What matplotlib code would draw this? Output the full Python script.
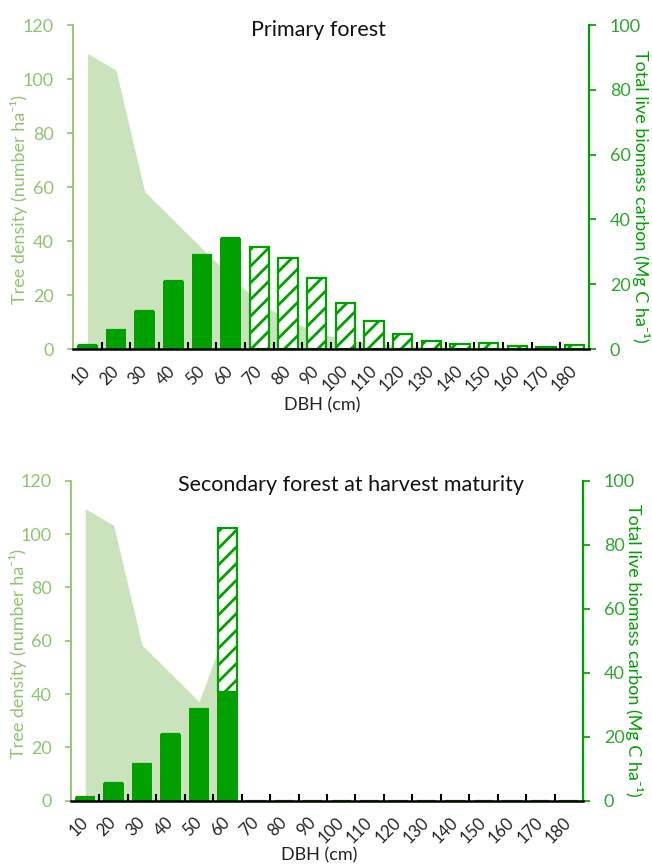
import matplotlib
matplotlib.use("Agg")
import matplotlib.pyplot as plt
import numpy as np

plt.rcParams['font.family'] = ['Lato', 'DejaVu Sans']
plt.rcParams['hatch.linewidth'] = 2.0
plt.rcParams['hatch.color'] = '#00A000'

# DBH classes (cm)
dbh = ['10', '20', '30', '40', '50', '60', '70', '80', '90', '100',
       '110', '120', '130', '140', '150', '160', '170', '180']

# Tree density (number per ha)
density_primary = [109.5, 103.3, 58.3, 47.8, 37.3, 27.0, 17.0, 11.0, 6.0, 3.5,
                   2.0, 1.2, 0.8, 0.5, 0.4, 0.3, 0.2, 0.2]
density_secondary = [109.5, 103.3, 58.3, 47.8, 37.1, 66.0]

# Total live biomass carbon (Mg C per ha), trees up to 60 cm
carbon_small_primary = [1.2, 5.9, 11.7, 21.0, 29.0, 34.3, 0, 0, 0, 0,
                        0, 0, 0, 0, 0, 0, 0, 0]
# carbon in the larger classes
carbon_large_primary = [0, 0, 0, 0, 0, 0, 31.6, 28.2, 21.8, 14.3,
                        8.6, 4.7, 2.5, 1.4, 1.7, 1.0, 0.7, 1.2]

carbon_small_secondary = [1.2, 5.6, 11.5, 20.7, 28.8, 34.0, 0, 0, 0, 0,
                          0, 0, 0, 0, 0, 0, 0, 0]
carbon_large_secondary = [0, 0, 0, 0, 0, 51.1, 0, 0, 0, 0,
                          0, 0, 0, 0, 0, 0, 0, 0]

GREEN = '#00A000'
AREA = '#CAE3BD'
LEFTC = '#8FC46F'
RIGHTC = '#2BA82B'

fig = plt.figure(figsize=(6.52, 8.64), dpi=100)


def panel(rect, density, small, large, title, title_xy, xlab_xy):
    ax = fig.add_axes(rect)
    x = np.arange(len(dbh))
    xd = np.arange(len(density))
    ax.fill_between(xd, density, 0, color=AREA, linewidth=0)
    ax.set_xlim(-0.5, len(dbh) - 0.5)
    ax.set_ylim(0, 120)
    ax.set_yticks(range(0, 121, 20))
    ax.tick_params(axis='y', colors=LEFTC, labelsize=13, length=4, width=1.2, pad=10)
    ax.set_ylabel('Tree density (number ha⁻¹)', color=LEFTC, fontsize=13,
                  ha='center', va='center')
    ax.yaxis.set_label_coords(-0.104, 0.46)
    ax.spines['left'].set_color(LEFTC)
    ax.spines['left'].set_linewidth(1.3)
    ax.spines['top'].set_visible(False)
    ax.spines['right'].set_visible(False)
    ax.spines['bottom'].set_visible(False)

    # category labels in the middle, tick marks on the boundaries
    ax.set_xticks(x)
    ax.set_xticklabels(dbh, rotation=45, ha='right', va='center', fontsize=12,
                       color='#222222', rotation_mode='anchor')
    ax.tick_params(axis='x', which='major', length=0, pad=14)
    ax.set_xticks(np.arange(0.5, len(dbh) - 1, 1.0), minor=True)
    ax.tick_params(axis='x', which='minor', direction='in', length=5, width=1.5,
                   color='black')
    ax.set_xlabel('DBH (cm)', fontsize=13, color='#222222', va='center')
    ax.xaxis.set_label_coords(*xlab_xy)

    ax2 = ax.twinx()
    ax2.bar(x, small, width=0.72, color=GREEN, linewidth=0)
    ax2.bar(x, large, width=0.68, bottom=small, facecolor='white',
            edgecolor=GREEN, linewidth=1.6, hatch='//')
    ax2.set_ylim(0, 100)
    ax2.set_yticks(range(0, 101, 20))
    ax2.tick_params(axis='y', colors=RIGHTC, labelsize=13, length=5, width=1.5, pad=10)
    ax2.set_ylabel('Total live biomass carbon (Mg C ha⁻¹)', color=GREEN,
                   fontsize=13, rotation=270, ha='center', va='center')
    ax2.yaxis.set_label_coords(1.1, 0.47)
    ax2.spines['right'].set_color(GREEN)
    ax2.spines['right'].set_linewidth(1.6)
    ax2.spines['left'].set_visible(False)
    ax2.spines['top'].set_visible(False)
    ax2.spines['bottom'].set_color('black')
    ax2.spines['bottom'].set_linewidth(1.8)

    fig.text(title_xy[0], title_xy[1], title, fontsize=15.5, color='#111111',
             ha='center', va='center')
    return ax, ax2


panel([73 / 652, 1 - 349 / 864, 516 / 652, 324 / 864],
      density_primary, carbon_small_primary, carbon_large_primary,
      'Primary forest', (318 / 652, 1 - 30 / 864), (0.483, -0.173))

panel([71 / 652, 1 - 800.7 / 864, 512 / 652, 320 / 864],
      density_secondary, carbon_small_secondary, carbon_large_secondary,
      'Secondary forest at harvest maturity', (351 / 652, 1 - 485 / 864),
      (0.484, -0.17))

fig.savefig('out.png', dpi=100)
